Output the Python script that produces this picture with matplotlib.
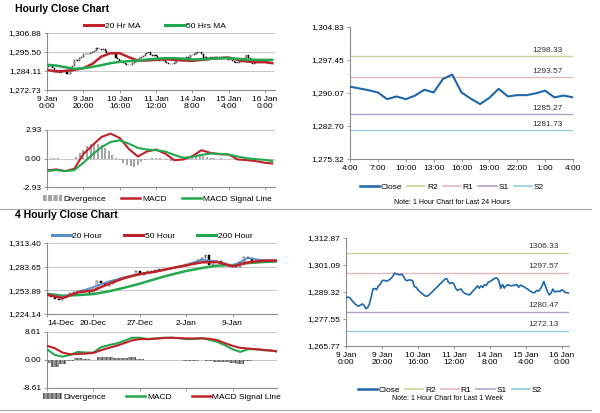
import numpy as np
import matplotlib
matplotlib.use("Agg")
import matplotlib.pyplot as plt
from matplotlib.lines import Line2D
from matplotlib.patches import Patch
from matplotlib.ticker import FuncFormatter

plt.rcParams['font.family'] = ['Liberation Sans', 'DejaVu Sans']
plt.rcParams['font.size'] = 6
plt.rcParams['hatch.linewidth'] = 0.9

# ── Colours ────────────────────────────────────────────────────────────────────
RED = "#c0222a"
GREEN = "#22a84f"
BLUE = "#5b8fc9"
CLOSE_BLUE = "#1f67a8"
DIV_LIGHT = "#a6a6a6"
DIV_DARK = "#505050"
SPINE = "#8c8c8c"
GRID = "#c8c8c8"
LEVEL_COLORS = {"R2": "#c3d69b", "R1": "#e6b9b8", "S1": "#b3a2c7", "S2": "#93cddd"}

# ── Hourly data (last week, 9 Jan 0:00 -> 16 Jan) ─────────────────────────────
close_1h = [1286.6, 1287.1, 1286.9, 1285.9, 1285.0, 1284.1, 1283.6, 1283.1, 1283.6, 1284.1,
            1283.6, 1282.1, 1282.4, 1284.1, 1287.1, 1290.6, 1290.9, 1290.3, 1292.0, 1292.6,
            1294.1, 1294.5, 1294.1, 1294.2, 1294.6, 1295.2, 1296.1, 1297.6, 1297.1, 1297.0,
            1296.8, 1297.1, 1296.1, 1294.6, 1294.2, 1294.6, 1294.5, 1294.3, 1291.7, 1291.4,
            1290.3, 1289.5, 1288.8, 1288.2, 1287.6, 1287.5, 1287.9, 1288.7, 1289.4, 1290.3,
            1291.0, 1291.7, 1292.6, 1293.3, 1294.1, 1294.9, 1295.2, 1293.5, 1293.0, 1293.5,
            1292.9, 1290.9, 1290.0, 1290.4, 1290.6, 1289.4, 1288.7, 1288.5, 1288.1, 1288.2,
            1289.2, 1290.1, 1290.9, 1292.0, 1291.0, 1292.0, 1291.3, 1292.5, 1292.2, 1293.5,
            1293.9, 1294.3, 1294.9, 1295.4, 1295.4, 1294.2, 1290.9, 1292.6, 1291.0, 1292.0,
            1292.5, 1292.2, 1292.0, 1292.2, 1292.3, 1292.6, 1291.4, 1292.3, 1292.0, 1291.6,
            1291.0, 1290.6, 1290.0, 1289.4, 1289.0, 1289.1, 1290.0, 1289.7, 1290.6, 1291.9,
            1293.9, 1291.7, 1289.5, 1288.1, 1288.8, 1290.6, 1289.4, 1289.5, 1289.7, 1289.5,
            1290.3, 1289.8, 1289.1, 1289.0, 1288.8]
ticks_1h = [0, 20, 40, 60, 80, 100, 120]
labels_1h = ["9 Jan\n0:00", "9 Jan\n20:00", "10 Jan\n16:00", "11 Jan\n12:00",
             "14 Jan\n8:00", "15 Jan\n4:00", "16 Jan\n0:00"]

# moving averages / MACD read every 5 hours
ma_x_1h = [0, 5, 10, 15, 20, 25, 30, 35, 40, 45, 50, 55, 60, 65, 70, 75, 80, 85, 90, 95,
           100, 105, 110, 115, 120, 124]
ma20_1h = [1284.8, 1283.8, 1284.2, 1284.8, 1285.8, 1288.4, 1292.8, 1294.8, 1294.8, 1292.4,
           1290.4, 1290.4, 1290.8, 1291.2, 1290.8, 1290.4, 1290.2, 1290.8, 1291.4, 1291.8,
           1292.2, 1290.8, 1289.8, 1289.4, 1289.4, 1288.8]
ma50_1h = [1287.8, 1287.4, 1286.4, 1285.4, 1285.8, 1286.6, 1287.6, 1288.8, 1289.6, 1290.0,
           1290.4, 1291.0, 1291.4, 1291.8, 1291.8, 1291.4, 1291.0, 1291.2, 1291.4, 1291.8,
           1291.8, 1291.4, 1291.0, 1290.8, 1290.8, 1290.8]
macd_1h = [-1.23, -1.12, -1.30, -1.06, 0.45, 1.36, 2.21, 2.56, 2.11, 0.99,
           0.20, 0.72, 0.92, 0.51, -0.17, -0.10, 0.24, 0.85, 0.58, 0.44,
           0.41, -0.10, -0.17, -0.27, -0.44, -0.51]
signal_1h = [-1.29, -1.19, -1.29, -1.20, -0.44, 0.41, 1.16, 1.70, 1.87, 1.53,
             1.09, 0.92, 0.85, 0.72, 0.37, 0.07, 0.17, 0.37, 0.51, 0.48,
             0.41, 0.20, 0.03, -0.07, -0.14, -0.27]
# divergence read every 2 hours
div_x_1h = list(range(0, 125, 2))
div_1h = [0.10, 0.10, 0.08, 0.05, -0.03, -0.06, -0.10, -0.10, 0.20, 0.55,
          0.90, 1.30, 1.50, 1.55, 1.50, 1.35, 1.10, 0.75, 0.35, 0.05,
          -0.20, -0.45, -0.65, -0.80, -0.85, -0.65, -0.40, -0.15, 0.00, 0.05,
          0.10, 0.05, -0.05, -0.15, -0.25, -0.30, -0.25, -0.12, -0.03, 0.05,
          0.15, 0.25, 0.30, 0.25, 0.12, 0.05, 0.02, 0.00, 0.02, 0.00,
          -0.03, -0.08, -0.12, -0.15, -0.15, -0.12, -0.15, -0.18, -0.18, -0.20,
          -0.20, -0.20, -0.20]

# ── Last 24 hours ──────────────────────────────────────────────────────────────
close_24h = [1291.5, 1291.1, 1290.7, 1290.2, 1288.7, 1289.3, 1288.7, 1289.5, 1290.8, 1290.2,
             1293.2, 1294.2, 1290.2, 1288.8, 1287.6, 1289.0, 1291.0, 1289.3, 1289.6, 1289.6,
             1290.0, 1290.6, 1289.1, 1289.5, 1289.1]
labels_24h = ["4:00", "7:00", "10:00", "13:00", "16:00", "19:00", "22:00", "1:00", "4:00"]
levels_24h = {"R2": 1298.33, "R1": 1293.57, "S1": 1285.27, "S2": 1281.73}
levels_1w = {"R2": 1306.33, "R1": 1297.57, "S1": 1280.47, "S2": 1272.13}

# ── 4-hourly data (read every 2 bars) ─────────────────────────────────────────
close_4h = [1248.4, 1245.4, 1242.9, 1242.1, 1244.2, 1247.1, 1250.5, 1251.7, 1253.4, 1253.8,
            1254.7, 1249.6, 1255.5, 1265.2, 1263.1, 1259.7, 1262.2, 1266.0, 1267.2, 1269.3,
            1270.6, 1272.3, 1273.1, 1277.7, 1273.5, 1275.6, 1277.7, 1278.6, 1279.0, 1280.7,
            1280.7, 1281.1, 1281.9, 1283.2, 1283.2, 1284.9, 1287.0, 1288.2, 1289.5, 1291.6,
            1294.5, 1297.9, 1286.1, 1290.3, 1290.3, 1288.2, 1286.1, 1284.9, 1284.0, 1283.2,
            1289.1, 1295.8, 1294.5, 1291.2, 1290.3, 1290.3, 1291.6, 1292.4, 1291.6, 1291.6]
ticks_4h = [0, 24, 48, 72, 96]
labels_4h = ["14-Dec", "20-Dec", "27-Dec", "2-Jan", "9-Jan"]

ma_x_4h = [0, 8, 16, 24, 32, 40, 48, 56, 64, 72, 80, 88, 96, 104, 112, 119]
ma20_4h = [1248.4, 1245.4, 1251.7, 1258.0, 1265.1, 1270.2, 1274.0, 1277.3, 1281.5, 1285.7,
           1292.4, 1290.3, 1284.9, 1294.5, 1291.6, 1291.6]
ma50_4h = [1248.4, 1244.2, 1251.3, 1253.8, 1262.2, 1269.3, 1274.4, 1277.3, 1281.5, 1285.3,
           1289.1, 1289.5, 1284.0, 1289.1, 1291.2, 1291.2]
ma200_4h = [1249.6, 1247.1, 1247.9, 1249.2, 1252.6, 1257.2, 1262.2, 1268.1, 1273.5, 1278.2,
            1281.9, 1284.9, 1285.7, 1288.2, 1289.5, 1290.3]

macd_x_4h = list(range(0, 117, 4)) + [119]
macd_4h = [3.32, 1.56, 1.04, 1.56, 2.49, 2.28, 2.28, 3.94, 4.56, 5.08,
           5.91, 6.84, 6.84, 6.43, 6.64, 6.84, 6.84, 6.74, 6.43, 6.43,
           6.74, 6.22, 5.60, 4.56, 3.32, 2.49, 3.32, 3.32, 3.01, 2.90, 2.59]
signal_4h = [4.36, 3.63, 2.28, 1.76, 1.87, 1.97, 2.18, 3.01, 3.73, 4.36,
             5.19, 6.01, 6.43, 6.43, 6.53, 6.74, 6.84, 6.74, 6.64, 6.64,
             6.64, 6.53, 6.12, 5.19, 4.36, 3.73, 3.53, 3.32, 3.11, 2.90, 2.70]


# ── Helpers ────────────────────────────────────────────────────────────────────
def money(v, _pos=None):
    return f"{v:,.2f}"


def style(ax, grid=False):
    for s in ("top", "right"):
        ax.spines[s].set_visible(False)
    for s in ("left", "bottom"):
        ax.spines[s].set_color(SPINE)
        ax.spines[s].set_linewidth(0.8)
    ax.tick_params(length=2.5, width=0.6, color=SPINE, labelsize=6, pad=1.5)
    ax.yaxis.set_major_formatter(FuncFormatter(money))
    if grid:
        ax.yaxis.grid(True, color=GRID, lw=0.7)
        ax.set_axisbelow(True)


def px(x, y):
    """pixel position of the 600x413 canvas -> figure fraction"""
    return x / 600, 1 - y / 413


def candles(ax, xs, closes, width):
    o = np.array([closes[0]] + list(closes[:-1]))
    c = np.array(closes)
    lo = np.minimum(o, c)
    h = np.maximum(np.abs(c - o), 0.25)
    face = ["black" if cc < oo else "white" for oo, cc in zip(o, c)]
    ax.bar(xs, h, bottom=lo, width=width, color=face, edgecolor="black", linewidth=0.35, zorder=2)


def fig_legend(ax, handles, labels, center, **kw):
    opts = dict(loc="center", bbox_to_anchor=px(*center), bbox_transform=fig.transFigure,
                frameon=False, fontsize=6, handletextpad=0.2, borderpad=0, borderaxespad=0)
    opts.update(kw)
    return ax.legend(handles, labels, ncol=len(labels), **opts)


fig = plt.figure(figsize=(6.0, 4.13), dpi=100)

# ── Hourly close chart ─────────────────────────────────────────────────────────
ax1 = fig.add_axes([47 / 600, 1 - 90 / 413, 228 / 600, 57 / 413])
style(ax1, grid=True)
candles(ax1, np.arange(len(close_1h)), close_1h, 0.6)
ax1.plot(ma_x_1h, ma20_1h, color=RED, lw=1.8, zorder=3)
ax1.plot(ma_x_1h, ma50_1h, color=GREEN, lw=1.8, zorder=3)
ax1.set_xlim(0, 125.5)
ax1.set_ylim(1272.73, 1306.88)
ax1.set_yticks([1272.73, 1284.11, 1295.50, 1306.88])
ax1.set_xticks(ticks_1h)
ax1.set_xticklabels(labels_1h, linespacing=1.1)
fig_legend(ax1, [Line2D([], [], color=RED, lw=2.2), Line2D([], [], color=GREEN, lw=2.2)],
           ["20 Hr MA", "50 Hrs MA"], (155, 26), handlelength=2.3, columnspacing=3.0)

ax2 = fig.add_axes([47 / 600, 1 - 187 / 413, 228 / 600, 57 / 413])
style(ax2, grid=True)
ax2.bar(div_x_1h, div_1h, width=1.1, color=DIV_LIGHT, zorder=2)
ax2.plot(ma_x_1h, macd_1h, color=RED, lw=1.5, zorder=3)
ax2.plot(ma_x_1h, signal_1h, color=GREEN, lw=1.5, zorder=3)
ax2.set_xlim(0, 125.5)
ax2.set_ylim(-2.93, 2.93)
ax2.set_yticks([-2.93, 0.0, 2.93])
ax2.set_xticks(ticks_1h)
ax2.set_xticklabels([])
fig_legend(ax2, [Patch(facecolor=DIV_LIGHT, hatch="|||", edgecolor="white", lw=0),
                 Line2D([], [], color=RED, lw=1.8), Line2D([], [], color=GREEN, lw=1.8)],
           ["Divergence", "MACD", "MACD Signal Line"], (157, 199),
           handlelength=2.3, columnspacing=1.8)

# ── Last 24 hours with pivot levels ────────────────────────────────────────────
ax3 = fig.add_axes([350 / 600, 1 - 159 / 413, 223 / 600, 132 / 413])
style(ax3)
for name, val in levels_24h.items():
    ax3.axhline(val, color=LEVEL_COLORS[name], lw=1.0, zorder=1)
    ax3.text(0.955, val + 0.45, f"{val:.2f}", transform=ax3.get_yaxis_transform(),
             ha="right", va="bottom", fontsize=6, color="#333333")
ax3.plot(np.arange(len(close_24h)), close_24h, color=CLOSE_BLUE, lw=1.5, zorder=3)
ax3.set_xlim(0, 24)
ax3.set_ylim(1275.32, 1304.83)
ax3.set_yticks([1275.32, 1282.70, 1290.07, 1297.45, 1304.83])
ax3.set_xticks(range(0, 25, 3))
ax3.set_xticklabels(labels_24h)
lvl_handles = [Line2D([], [], color=CLOSE_BLUE, lw=1.8)] + \
              [Line2D([], [], color=LEVEL_COLORS[k], lw=1.2) for k in levels_24h]
fig_legend(ax3, lvl_handles, ["Close"] + list(levels_24h), (452, 187),
           handlelength=2.2, columnspacing=0.6)
fig.text(*px(452, 202), "Note: 1 Hour Chart for Last 24 Hours", ha="center", va="center",
         fontsize=5)

# ── 4 hourly close chart ──────────────────────────────────────────────────────
ax4 = fig.add_axes([47 / 600, 1 - 314 / 413, 230 / 600, 71 / 413])
style(ax4, grid=True)
candles(ax4, np.arange(0, 2 * len(close_4h), 2), close_4h, 1.0)
ax4.plot(ma_x_4h, ma200_4h, color=GREEN, lw=1.8, zorder=3)
ax4.plot(ma_x_4h, ma50_4h, color=RED, lw=1.8, zorder=4)
ax4.plot(ma_x_4h, ma20_4h, color=BLUE, lw=1.3, zorder=3)
ax4.set_xlim(0, 119)
ax4.set_ylim(1224.14, 1313.40)
ax4.set_yticks([1224.14, 1253.89, 1283.65, 1313.40])
ax4.set_xticks(ticks_4h)
ax4.set_xticklabels(labels_4h)
ax4.get_xticklabels()[0].set_horizontalalignment("left")
fig_legend(ax4, [Line2D([], [], color=BLUE, lw=2.2), Line2D([], [], color=RED, lw=2.2),
                 Line2D([], [], color=GREEN, lw=2.2)],
           ["20 Hour", "50 Hour", "200 Hour"], (152, 236), handlelength=2.3, columnspacing=2.6)

ax5 = fig.add_axes([47 / 600, 1 - 388 / 413, 230 / 600, 56 / 413])
style(ax5, grid=True)
div_4h = np.array(macd_4h) - np.array(signal_4h)
ax5.bar(macd_x_4h, div_4h, width=4.0, facecolor="#9a9a9a", hatch="||||",
        edgecolor=DIV_DARK, linewidth=0, zorder=2)
ax5.plot(macd_x_4h, macd_4h, color=GREEN, lw=1.5, zorder=3)
ax5.plot(macd_x_4h, signal_4h, color=RED, lw=1.5, zorder=3)
ax5.set_xlim(0, 119)
ax5.set_ylim(-8.61, 8.61)
ax5.set_yticks([-8.61, 0.0, 8.61])
ax5.set_xticks(ticks_4h)
ax5.set_xticklabels([])
fig_legend(ax5, [Patch(facecolor="#9a9a9a", hatch="||||", edgecolor=DIV_DARK, lw=0),
                 Line2D([], [], color=GREEN, lw=1.8), Line2D([], [], color=RED, lw=1.8)],
           ["Divergence", "MACD", "MACD Signal Line"], (162, 397),
           handlelength=2.3, columnspacing=2.4)

# ── Last week with pivot levels ───────────────────────────────────────────────
ax6 = fig.add_axes([346 / 600, 1 - 346 / 413, 223 / 600, 108 / 413])
style(ax6)
for name, val in levels_1w.items():
    ax6.axhline(val, color=LEVEL_COLORS[name], lw=1.0, zorder=1)
    ax6.text(0.955, val + 1.3, f"{val:.2f}", transform=ax6.get_yaxis_transform(),
             ha="right", va="bottom", fontsize=6, color="#333333")
ax6.plot(np.arange(len(close_1h)), close_1h, color=CLOSE_BLUE, lw=1.2, zorder=3)
ax6.set_xlim(0, 124)
ax6.set_ylim(1265.77, 1312.87)
ax6.set_yticks([1265.77, 1277.55, 1289.32, 1301.09, 1312.87])
ax6.set_xticks(ticks_1h)
ax6.set_xticklabels(labels_1h, linespacing=1.1)
fig_legend(ax6, lvl_handles, ["Close"] + list(levels_1w), (450, 390),
           handlelength=2.2, columnspacing=0.6)
fig.text(*px(447, 398), "Note: 1 Hour Chart for Last 1 Week", ha="center", va="center",
         fontsize=5)

# ── Titles and separators ─────────────────────────────────────────────────────
fig.text(*px(15, 9), "Hourly Close Chart", fontsize=7.5, weight="bold", va="center")
fig.text(*px(15, 215), "4 Hourly Close Chart", fontsize=7.5, weight="bold", va="center")
for y in (209, 410):
    fig.add_artist(Line2D([0, 0.985], [1 - y / 413] * 2, transform=fig.transFigure,
                          color="#a6a6a6", lw=0.8))

fig.savefig("out.png", dpi=100)
